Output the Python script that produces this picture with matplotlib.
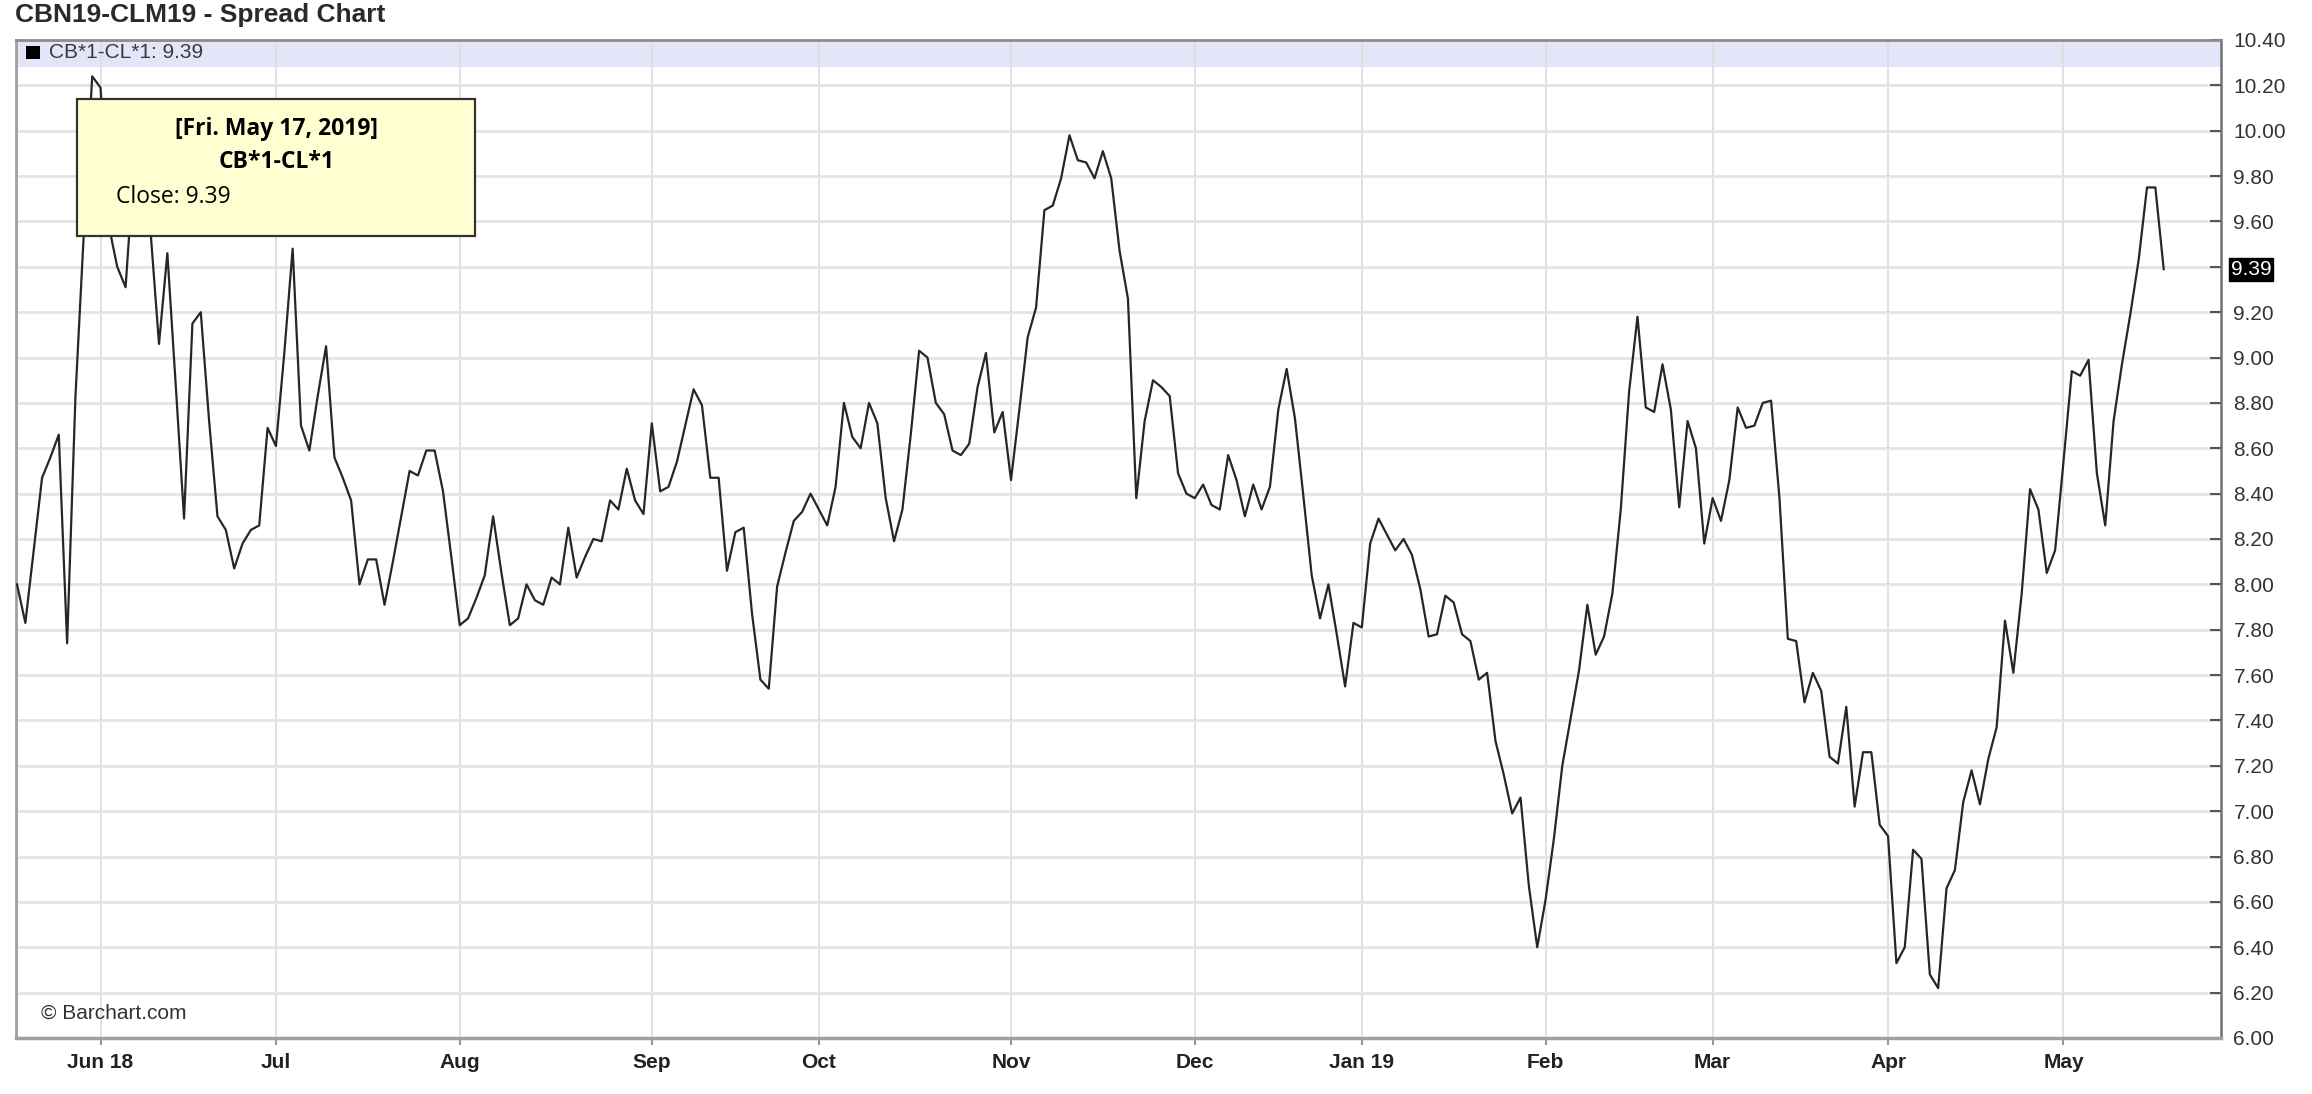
import numpy as np
import pandas as pd
import matplotlib
matplotlib.use("Agg")
import matplotlib.pyplot as plt
import matplotlib.transforms as mtransforms
from matplotlib.patches import Rectangle

plt.rcParams['font.family'] = ['Liberation Sans', 'DejaVu Sans']

# Data: CB*1-CL*1 spread (Brent minus WTI), daily closes
title = "CBN19-CLM19 - Spread Chart"
series_name = "CB*1-CL*1"
closed_days = ['2018-12-25', '2019-01-01', '2019-04-19']
trade_days = pd.bdate_range('2018-05-18', '2019-05-17')
trade_days = trade_days[~trade_days.isin(pd.to_datetime(closed_days))]

close = [
    8.00, 7.83, 8.15, 8.47, 8.56, 8.66, 7.74, 8.83, 9.55, 10.24,
    10.19, 9.58, 9.40, 9.31, 9.85, 9.70, 9.55, 9.06, 9.46, 8.88,
    8.29, 9.15, 9.20, 8.72, 8.30, 8.24, 8.07, 8.18, 8.24, 8.26,
    8.69, 8.61, 9.02, 9.48, 8.70, 8.59, 8.83, 9.05, 8.56, 8.47,
    8.37, 8.00, 8.11, 8.11, 7.91, 8.10, 8.30, 8.50, 8.48, 8.59,
    8.59, 8.41, 8.12, 7.82, 7.85, 7.94, 8.04, 8.30, 8.05, 7.82,
    7.85, 8.00, 7.93, 7.91, 8.03, 8.00, 8.25, 8.03, 8.12, 8.20,
    8.19, 8.37, 8.33, 8.51, 8.37, 8.31, 8.71, 8.41, 8.43, 8.54,
    8.70, 8.86, 8.79, 8.47, 8.47, 8.06, 8.23, 8.25, 7.87, 7.58,
    7.54, 7.99, 8.14, 8.28, 8.32, 8.40, 8.33, 8.26, 8.43, 8.80,
    8.65, 8.60, 8.80, 8.71, 8.38, 8.19, 8.33, 8.66, 9.03, 9.00,
    8.80, 8.75, 8.59, 8.57, 8.62, 8.87, 9.02, 8.67, 8.76, 8.46,
    8.77, 9.09, 9.22, 9.65, 9.67, 9.79, 9.98, 9.87, 9.86, 9.79,
    9.91, 9.79, 9.47, 9.26, 8.38, 8.72, 8.90, 8.87, 8.83, 8.49,
    8.40, 8.38, 8.44, 8.35, 8.33, 8.57, 8.46, 8.30, 8.44, 8.33,
    8.43, 8.77, 8.95, 8.73, 8.39, 8.04, 7.85, 8.00, 7.78, 7.55,
    7.83, 7.81, 8.18, 8.29, 8.22, 8.15, 8.20, 8.13, 7.98, 7.77,
    7.78, 7.95, 7.92, 7.78, 7.75, 7.58, 7.61, 7.31, 7.16, 6.99,
    7.06, 6.67, 6.40, 6.61, 6.88, 7.20, 7.41, 7.62, 7.91, 7.69,
    7.77, 7.96, 8.33, 8.85, 9.18, 8.78, 8.76, 8.97, 8.77, 8.34,
    8.72, 8.60, 8.18, 8.38, 8.28, 8.46, 8.78, 8.69, 8.70, 8.80,
    8.81, 8.38, 7.76, 7.75, 7.48, 7.61, 7.53, 7.24, 7.21, 7.46,
    7.02, 7.26, 7.26, 6.94, 6.89, 6.33, 6.40, 6.83, 6.79, 6.28,
    6.22, 6.66, 6.74, 7.04, 7.18, 7.03, 7.23, 7.37, 7.84, 7.61,
    7.96, 8.42, 8.33, 8.05, 8.15, 8.54, 8.94, 8.92, 8.99, 8.49,
    8.26, 8.72, 8.97, 9.19, 9.43, 9.75, 9.75, 9.39,
]
month_labels = ["Jun 18", "Jul", "Aug", "Sep", "Oct", "Nov", "Dec",
                "Jan 19", "Feb", "Mar", "Apr", "May"]
y_ticks = np.round(np.arange(6.0, 10.41, 0.2), 2)

# x is trading day number (barchart style, no gaps)
x = np.arange(len(close))
months = trade_days.to_period('M')
month_starts = [i for i in range(1, len(months)) if months[i] != months[i - 1]]
last = close[-1]

fig = plt.figure(figsize=(23.12, 10.94), dpi=100)
ax = fig.add_axes([16 / 2312, 1 - 1038 / 1094, 2205 / 2312, 998 / 1094])

ax.plot(x, close, color='#262626', lw=1.6, zorder=3)

ax.set_xlim(-0.12, 263.86)
ax.set_ylim(6.0, 10.4)

# grid
ax.set_axisbelow(True)
ax.set_xticks(month_starts)
ax.set_xticklabels(month_labels, fontsize=15, fontweight='bold', color='#222222')
ax.set_yticks(y_ticks)
ax.set_yticklabels(['' if abs(v - 9.4) < 1e-6 else f'{v:.2f}' for v in y_ticks],
                   fontsize=15, color='#333333')
ax.yaxis.tick_right()
ax.grid(axis='y', color='#e4e4e4', lw=2.0)
ax.grid(axis='x', color='#dedede', lw=1.3)
ax.tick_params(axis='y', direction='in', length=8, width=1.5, color='#555555', pad=9)
ax.tick_params(axis='x', direction='out', length=5, width=1.5, color='#999999', pad=6)

for side, col, w in [('left', '#a0a0a0', 2), ('bottom', '#a0a0a0', 2.5),
                     ('top', '#8c8c8c', 2), ('right', '#707070', 1.8)]:
    ax.spines[side].set_color(col)
    ax.spines[side].set_linewidth(w)

# legend band at top
ax.add_patch(Rectangle((0, 0.973), 1, 0.027, transform=ax.transAxes,
                       facecolor='#e5e5f9', edgecolor='none', zorder=0.1))
ax.add_patch(Rectangle((0.0045, 0.9805), 0.0062, 0.0135, transform=ax.transAxes,
                       facecolor='black', edgecolor='none', zorder=4))
ax.text(0.015, 0.987, f"{series_name}: {last:.2f}", transform=ax.transAxes,
        fontsize=15, color='#3a3a3a', va='center', ha='left', zorder=4)

# last value marker on the right axis
trans = mtransforms.blended_transform_factory(ax.transAxes, ax.transData)
ax.annotate(f"{last:.2f}", xy=(1, last), xycoords=trans, xytext=(7, 0),
            textcoords='offset points', fontsize=15, color='white',
            va='center', ha='left', annotation_clip=False,
            bbox=dict(boxstyle='square,pad=0.1', facecolor='black', edgecolor='black'))

# tooltip box
ax.add_patch(Rectangle((0.0277, 0.8036), 0.1805, 0.1373, transform=ax.transAxes,
                       facecolor='#ffffd2', edgecolor='#333333', lw=1.6, zorder=5))
tip_date = trade_days[-1].strftime('[%a. %b %d, %Y]').replace(' 0', ' ')
ax.text(0.118, 0.9105, tip_date, transform=ax.transAxes, fontsize=16.5,
        fontweight='bold', family='Open Sans', ha='center', va='center', zorder=6)
ax.text(0.118, 0.8775, series_name, transform=ax.transAxes, fontsize=16.5,
        fontweight='bold', family='Open Sans', ha='center', va='center', zorder=6)
ax.text(0.0454, 0.8425, f"Close: {last:.2f}", transform=ax.transAxes, fontsize=16.5,
        family='Open Sans', ha='left', va='center', zorder=6)

ax.text(0.0113, 0.025, "\u00a9 Barchart.com", transform=ax.transAxes,
        fontsize=15, color='#333333', ha='left', va='center')

fig.text(15 / 2312, 1 - 15 / 1094, title, fontsize=19, fontweight='bold',
         color='#2a2a2a', ha='left', va='center')

fig.savefig('out.png', dpi=100)
